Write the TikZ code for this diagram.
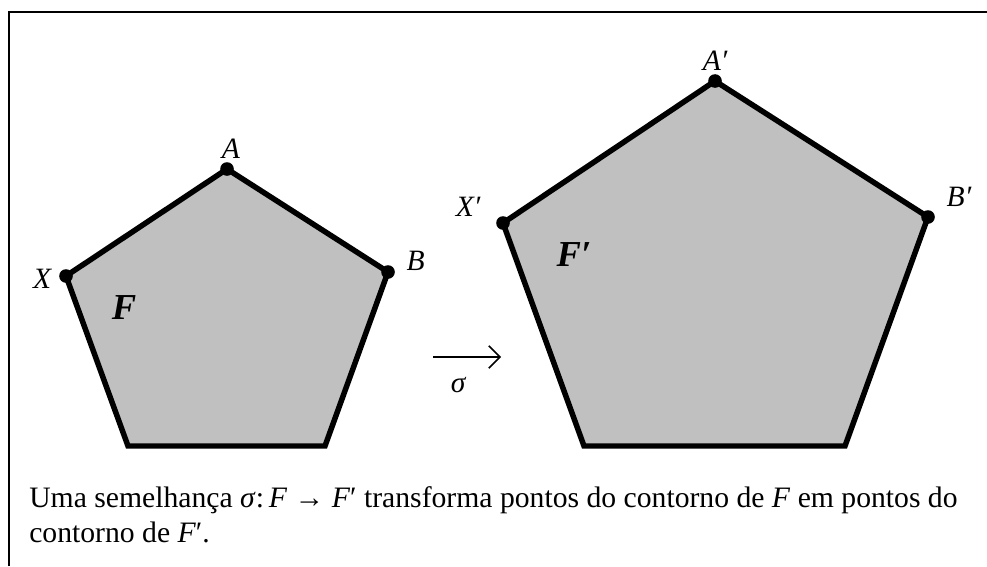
\documentclass[tikz,border=0pt]{standalone}
\usepackage{fontspec}
\setmainfont{Liberation Serif}
\usetikzlibrary{arrows.meta, positioning}
\definecolor{shapegray}{RGB}{192,192,192}

\begin{document}
\begin{tikzpicture}[
    x=0.025cm, y=-0.025cm,
    boxline/.style={draw, line width=1.4pt},
    polyfig/.style={draw=black, fill=shapegray, line width=3.9pt, line join=miter},
    vertex/.style={circle, fill=black, inner sep=0pt, minimum size=0.34cm},
    vlabel/.style={font=\fontsize{21}{24}\selectfont\itshape, inner sep=1pt},
    figname/.style={font=\fontsize{26}{30}\selectfont\bfseries\itshape, inner sep=0pt},
    map/.style={-{Straight Barb[length=2.8mm, width=5.6mm]}, line width=1.1pt},
    caption/.style={font=\fontsize{21.1}{25}\selectfont, align=left, inner sep=0pt, anchor=north west}
]

    \useasboundingbox (0,0) rectangle (987,566);
    \draw [boxline] (9,566) -- (9,12) -- (987,12);

    \coordinate (X) at (66,276);
    \coordinate (A) at (227,169);
    \coordinate (B) at (388,272);
    \coordinate (C) at (325,446);
    \coordinate (D) at (128,446);

    \coordinate (X') at (503,223);
    \coordinate (A') at (715,81);
    \coordinate (B') at (928,217);
    \coordinate (C') at (845,446);
    \coordinate (D') at (584,446);

    \filldraw [polyfig] (X) -- (A) -- (B) -- (C) -- (D) -- cycle;
    \filldraw [polyfig] (X') -- (A') -- (B') -- (C') -- (D') -- cycle;

    \node [vertex] (dotX) at (X) {};
    \node [vertex] (dotA) at (A) {};
    \node [vertex] (dotB) at (B) {};
    \node [vertex] (dotX') at (X') {};
    \node [vertex] (dotA') at (A') {};
    \node [vertex] (dotB') at (B') {};

    \node [vlabel, above=0.4mm of dotA, xshift=1mm] (labA) {A};
    \node [vlabel, left=1.5mm of dotX, yshift=-0.8mm] (labX) {X};
    \node [vlabel, above right=-1.2mm and 3mm of dotB] (labB) {B};
    \node [vlabel, above=0.4mm of dotA'] (labA') {A′};
    \node [vlabel, above left=0mm and 4mm of dotX'] (labX') {X′};
    \node [vlabel, above right=1mm and 3mm of dotB'] (labB') {B′};

    \node [figname] (F) at (124,308) {F};
    \node [figname] (F') at (574,255) {F′};

    \coordinate (mapL) at (433,357);
    \coordinate (mapR) at (501,357);
    \draw [map] (mapL) -- node [vlabel, below=4.5mm, pos=0.37] (sigma) {σ} (mapR);

    \node [caption] (cap) at (29,486) {Uma semelhança \textit{σ}:\,\textit{F} → \textit{F}′ transforma pontos do contorno de \textit{F} em pontos do\\contorno de \textit{F}′.};

\end{tikzpicture}
\end{document}
